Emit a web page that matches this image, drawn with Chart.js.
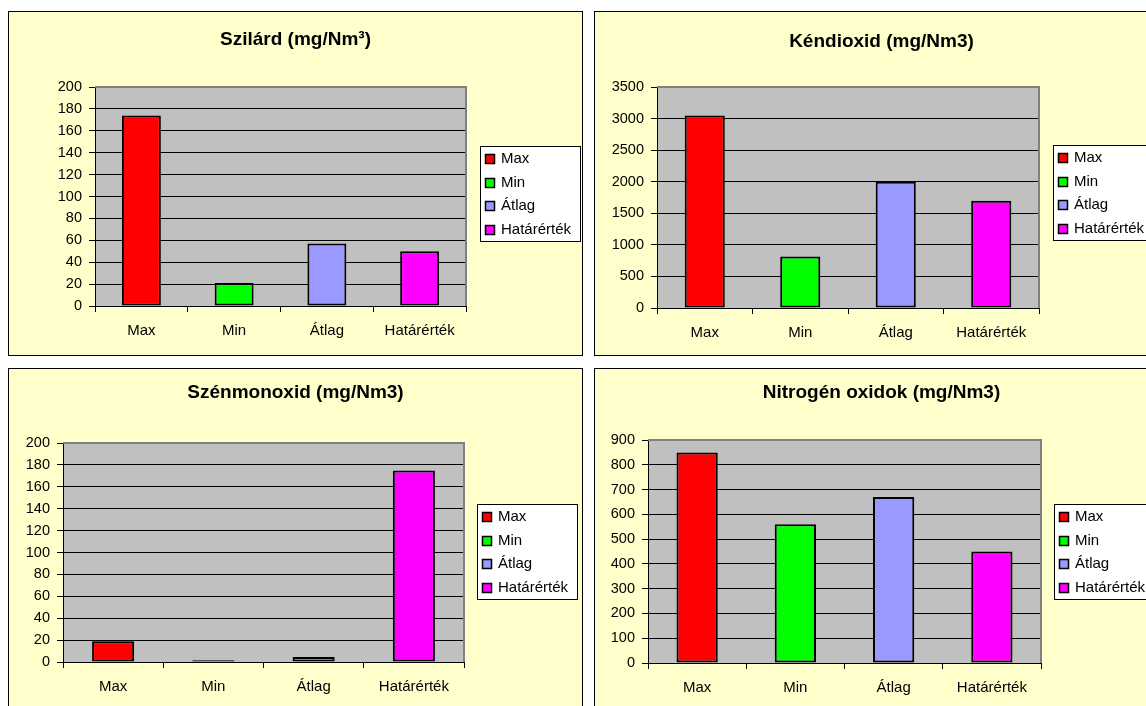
<!DOCTYPE html>
<html>
<head>
<meta charset="utf-8">
<title>Kibocsátások</title>
<script src="https://cdn.jsdelivr.net/npm/chart.js@4.4.0/dist/chart.umd.min.js"></script>
<style>
  html, body { margin: 0; padding: 0; background: #fff; overflow: hidden; }
  body { width: 1146px; height: 706px; position: relative; }
  .panel {
    position: absolute;
    width: 575px;
    height: 345px;
    box-sizing: border-box;
    border: 1px solid #000;
    background: #ffffcc;
  }
  .panel canvas { display: block; }
</style>
</head>
<body>
<div class="panel" style="left:8px;top:11px"><canvas id="szilard" width="573" height="343"></canvas></div>
<div class="panel" style="left:594px;top:11px"><canvas id="kendioxid" width="573" height="343"></canvas></div>
<div class="panel" style="left:8px;top:368px"><canvas id="szenmonoxid" width="573" height="343"></canvas></div>
<div class="panel" style="left:594px;top:368px"><canvas id="nitrogen" width="573" height="343"></canvas></div>

<script>
const categories = ['Max', 'Min', 'Átlag', 'Határérték'];

const szilardValues = [174, 21, 57, 50];
const kendioxidValues = [3050, 815, 2000, 1700];
const szenmonoxidValues = [19, 1.5, 4.5, 175];
const nitrogenValues = [850, 560, 670, 450];

// y axis range and step per chart: Szilárd, Kéndioxid, Szénmonoxid, Nitrogén oxidok
const yMax = [200, 3500, 200, 900];
const yStep = [20, 500, 20, 100];

const barColors = ['#ff0000', '#00ff00', '#9999ff', '#ff00ff'];
const FONT = "'Liberation Sans', Arial, sans-serif";

// grey plot background, grey top/right frame, title and boxed legend
const panelPlugin = {
  id: 'panel',
  beforeDraw(chart) {
    const { ctx, chartArea: a } = chart;
    ctx.save();
    ctx.fillStyle = '#c0c0c0';
    ctx.fillRect(a.left, a.top, a.right - a.left, a.bottom - a.top);
    ctx.restore();
  },
  beforeDatasetsDraw(chart) {
    const { ctx, chartArea: a } = chart;
    ctx.save();
    ctx.strokeStyle = '#808080';
    ctx.lineWidth = 2;
    ctx.beginPath();
    ctx.moveTo(a.left, a.top);
    ctx.lineTo(a.right, a.top);
    ctx.lineTo(a.right, a.bottom);
    ctx.stroke();
    ctx.restore();
  },
  afterDraw(chart, args, opts) {
    const ctx = chart.ctx;
    ctx.save();
    ctx.fillStyle = '#000';
    ctx.font = 'bold 19px ' + FONT;
    ctx.textAlign = 'center';
    ctx.textBaseline = 'middle';
    ctx.fillText(opts.title, chart.width / 2, opts.titleY);

    const x = opts.legendX, y = opts.legendY;
    const w = 100, h = 95;
    ctx.fillStyle = '#fff';
    ctx.fillRect(x, y, w, h);
    ctx.strokeStyle = '#000';
    ctx.lineWidth = 1;
    ctx.strokeRect(x + 0.5, y + 0.5, w, h);

    const ds = chart.data.datasets[0];
    ctx.font = '15px ' + FONT;
    ctx.textAlign = 'left';
    chart.data.labels.forEach((label, i) => {
      const cy = Math.round(y + 13 + i * 23.5);
      ctx.fillStyle = ds.backgroundColor[i];
      ctx.fillRect(x + 5, cy - 5, 10, 10);
      ctx.lineWidth = 1.5;
      ctx.strokeRect(x + 5.5, cy - 4.5, 9, 9);
      ctx.fillStyle = '#000';
      ctx.fillText(label, x + 21, cy);
    });
    ctx.restore();
  }
};

function makeChart(id, title, values, idx, geo) {
  const W = 573, H = 343;
  const max = yMax[idx];
  return new Chart(document.getElementById(id), {
    type: 'bar',
    data: {
      labels: categories,
      datasets: [{
        data: values,
        backgroundColor: barColors,
        borderColor: '#000000',
        borderWidth: 2,
        borderSkipped: false,
        categoryPercentage: 1,
        barPercentage: 0.42
      }]
    },
    plugins: [panelPlugin],
    options: {
      responsive: false,
      animation: false,
      layout: {
        padding: { left: 0, top: geo.top, right: W - geo.right, bottom: 0 }
      },
      scales: {
        x: {
          afterFit: (s) => { s.height = H - geo.bottom; },
          grid: { offset: true, drawOnChartArea: false, tickLength: 6, color: '#000' },
          border: { color: '#000', width: 1 },
          ticks: { color: '#000', padding: 10, font: { family: FONT, size: 15 } }
        },
        y: {
          min: 0,
          max: max,
          afterFit: (s) => { s.width = geo.left; },
          grid: {
            color: (c) => (c.tick && c.tick.value === max ? '#808080' : '#000'),
            tickColor: '#000',
            tickLength: 6,
            lineWidth: 1
          },
          border: { color: '#000', width: 1 },
          ticks: {
            stepSize: yStep[idx],
            color: '#000',
            padding: 7,
            font: { family: FONT, size: 14.5 },
            callback: (v) => String(v)
          }
        }
      },
      plugins: {
        legend: { display: false },
        tooltip: { enabled: false },
        panel: { title: title, titleY: geo.titleY, legendX: geo.legendX, legendY: geo.legendY }
      }
    }
  });
}

makeChart('szilard', 'Szilárd (mg/Nm³)', szilardValues, 0,
  { left: 86, right: 457, top: 75, bottom: 294, titleY: 28, legendX: 471, legendY: 134 });
makeChart('kendioxid', 'Kéndioxid (mg/Nm3)', kendioxidValues, 1,
  { left: 62, right: 444, top: 75, bottom: 296, titleY: 30, legendX: 458, legendY: 133 });
makeChart('szenmonoxid', 'Szénmonoxid (mg/Nm3)', szenmonoxidValues, 2,
  { left: 54, right: 455, top: 74, bottom: 293, titleY: 24, legendX: 468, legendY: 135 });
makeChart('nitrogen', 'Nitrogén oxidok (mg/Nm3)', nitrogenValues, 3,
  { left: 53, right: 446, top: 71, bottom: 294, titleY: 24, legendX: 459, legendY: 135 });
</script>
</body>
</html>
